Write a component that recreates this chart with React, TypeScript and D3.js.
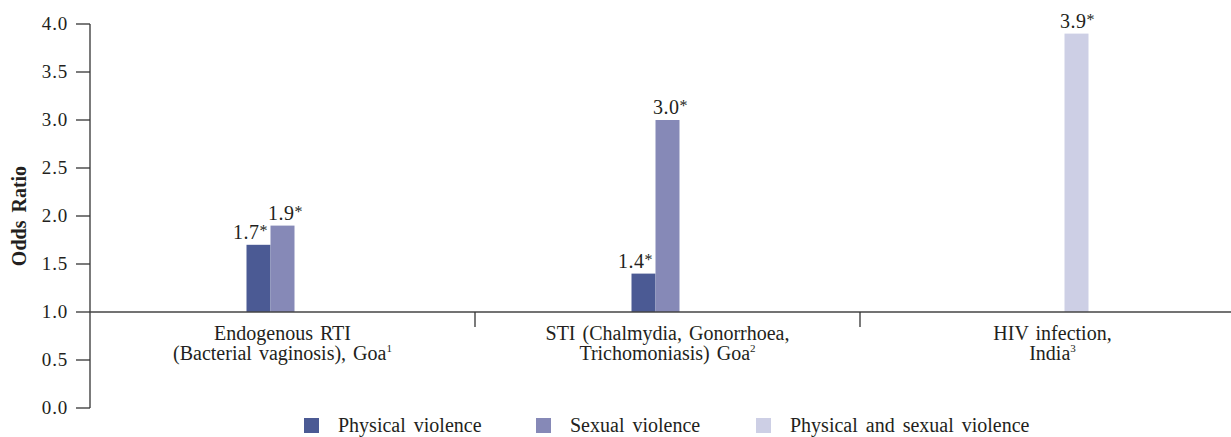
import React from "react";
import * as d3 from "d3";

const categoryLine1 = ["Endogenous RTI", "STI (Chalmydia, Gonorrhoea,", "HIV infection,"];
const categoryLine2 = ["(Bacterial vaginosis), Goa", "Trichomoniasis) Goa", "India"];
const categoryNote = ["1", "2", "3"];

const seriesNames = ["Physical violence", "Sexual violence", "Physical and sexual violence"];
const physicalValues: (number | null)[] = [1.7, 1.4, null];
const sexualValues: (number | null)[] = [1.9, 3.0, null];
const bothValues: (number | null)[] = [null, null, 3.9];
const valueLabels = ["*", "*", "*"];

const yTicks = [0, 0.5, 1.0, 1.5, 2.0, 2.5, 3.0, 3.5, 4.0];
const yTitle = "Odds Ratio";

const colors = ["#4b5a94", "#8689b7", "#cdcfe5"];
const labelDx = [-8, 3, 1];
const legendX = [304, 536, 756];

const W = 1231;
const H = 437;
const FONT = "Liberation Serif, DejaVu Serif, Times New Roman, serif";
const TEXT = "#231f20";

export default function App() {
  const y = d3.scaleLinear().domain([0, 4]).range([408, 24]);
  const x = d3.scaleBand<number>().domain(d3.range(categoryLine1.length)).range([90, 1245]).padding(0);
  const inner = d3.scaleBand<number>().domain([0, 1, 2]).range([-36, 36]).padding(0);
  const series = [physicalValues, sexualValues, bothValues];
  const base = y(1);
  const axisX = 90;

  return (
    <svg
      width={W}
      height={H}
      style={{ position: "absolute", left: 0, top: 0, background: "#fff", fontFamily: FONT }}
    >
      {/* y axis */}
      <line x1={axisX} x2={axisX} y1={y(4)} y2={y(0)} stroke="#333" strokeWidth={1.3} />
      {yTicks.map((t) => (
        <g key={t}>
          <line x1={axisX - 14} x2={axisX} y1={y(t)} y2={y(t)} stroke="#333" strokeWidth={1.3} />
          <text x={axisX - 22} y={y(t)} dy="0.33em" textAnchor="end" fontSize={19} fill={TEXT} letterSpacing={0.8}>
            {d3.format(".1f")(t)}
          </text>
        </g>
      ))}
      <text
        transform={`translate(26,${(y(0) + y(4)) / 2}) rotate(-90)`}
        textAnchor="middle"
        fontSize={20}
        fontWeight="bold"
        fill={TEXT}
        wordSpacing={3}
      >
        {yTitle}
      </text>

      {/* bars */}
      {series.map((vals, si) =>
        vals.map((v, ci) => {
          if (v == null) return null;
          const cx = x(ci)! + x.bandwidth() / 2;
          const bx = cx + inner(si)!;
          const bw = inner.bandwidth();
          return (
            <g key={`${si}-${ci}`}>
              <rect x={bx} y={y(v)} width={bw} height={base - y(v)} fill={colors[si]} />
              <text x={bx + bw / 2 + labelDx[si]} y={y(v) - 6} textAnchor="middle" fontSize={20} fill={TEXT} letterSpacing={0.5}>
                {d3.format(".1f")(v)}
                <tspan fontSize={16} dy={-3}>{valueLabels[si]}</tspan>
              </text>
            </g>
          );
        })
      )}

      {/* x baseline at 1.0 */}
      <line x1={axisX} x2={W} y1={base} y2={base} stroke="#444" strokeWidth={1.5} />
      {d3.range(1, categoryLine1.length).map((i) => (
        <line key={i} x1={x(i)!} x2={x(i)!} y1={base} y2={base + 15} stroke="#333" strokeWidth={1.3} />
      ))}
      {categoryLine1.map((l1, i) => {
        const cx = x(i)! + x.bandwidth() / 2;
        return (
          <g key={i}>
            <text x={cx} y={340} textAnchor="middle" fontSize={20} fill={TEXT} wordSpacing={2}>
              {l1}
            </text>
            <text x={cx} y={360} textAnchor="middle" fontSize={20} fill={TEXT} wordSpacing={2}>
              {categoryLine2[i]}
              <tspan fontSize={11} dy={-8}>{categoryNote[i]}</tspan>
            </text>
          </g>
        );
      })}

      {/* legend */}
      {seriesNames.map((n, i) => (
        <g key={n}>
          <rect x={legendX[i]} y={418} width={15} height={15} fill={colors[i]} />
          <text x={legendX[i] + 34} y={432} fontSize={20} fill={TEXT} wordSpacing={3}>
            {n}
          </text>
        </g>
      ))}
    </svg>
  );
}
